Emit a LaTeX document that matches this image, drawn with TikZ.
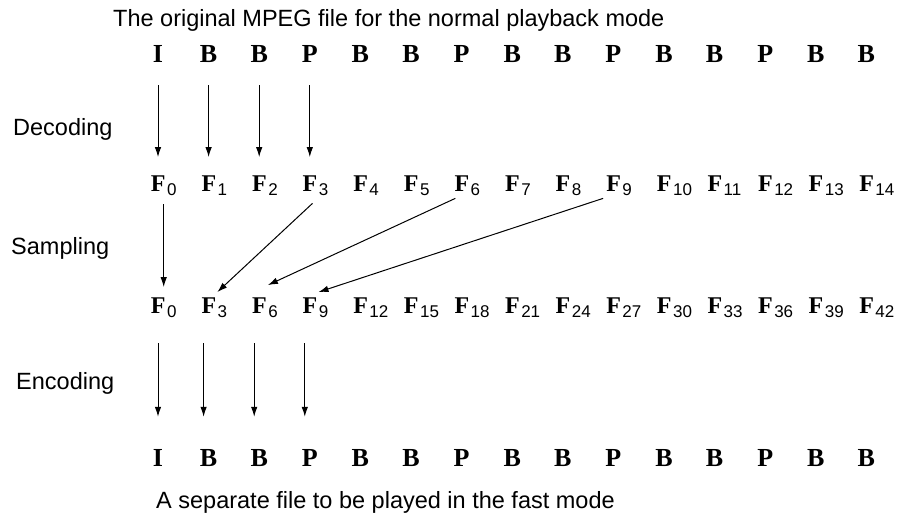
\documentclass[tikz,border=0pt]{standalone}
\usepackage{fontspec}
\setmainfont{Liberation Serif}
\setsansfont{Liberation Sans}
\usetikzlibrary{arrows.meta,calc}
\newcommand\Fsub[1]{F\kern1.5pt\raisebox{-4pt}{\mdseries\sffamily\fontsize{17}{17}\selectfont #1}}
\begin{document}
\begin{tikzpicture}[x=1pt,y=-1pt,
  ltr/.style={font=\fontsize{26}{26}\selectfont\bfseries, inner sep=0pt},
  frame/.style={font=\fontsize{24}{24}\selectfont\bfseries, inner sep=0pt},
  lab/.style={font=\sffamily\fontsize{23.5}{26}\selectfont, inner sep=0pt},
  arr/.style={-{Latex[length=10pt,width=6.5pt]}, line width=1pt}]
\useasboundingbox (0,0) rectangle (899,519);
\node[lab, anchor=base west] (title) at (113,27) {The original MPEG file for the normal playback mode};
\node[lab, anchor=base west] (dec) at (13,135) {Decoding};
\node[lab, anchor=base west] (sam) at (11,254) {Sampling};
\node[lab, anchor=base west] (enc) at (16,389) {Encoding};
\node[lab, anchor=base west] (foot) at (156,508) {A separate file to be played in the fast mode};
\foreach \t [count=\i from 0] in {I,B,B,P,B,B,P,B,B,P,B,B,P,B,B} {
  \node[ltr, anchor=base] (a\i) at ({158+50.6*\i},63) {\t};
  \node[ltr, anchor=base] (d\i) at ({158+50.6*\i},466) {\t};
}
\foreach \i in {0,...,14} {
  \node[frame, anchor=base west] (b\i) at ({150.7+50.6*\i},191) {\Fsub{\i}};
  \pgfmathtruncatemacro\k{3*\i}
  \node[frame, anchor=base west] (c\i) at ({150.7+50.6*\i},313) {\Fsub{\k}};
}
\foreach \i in {0,...,3} {
  \draw[arr, shorten <=22pt, shorten >=18pt] (a\i.south) -- (a\i.south |- b\i.north);
}
\foreach \i/\dx in {0/0,1/-5,2/-5,3/-5} {
  \draw[arr, shorten <=26pt, shorten >=32pt] ($(d\i.north |- c\i.south)+(\dx,0)$) -- ($(d\i.north)+(\dx,0)$);
}
\draw[arr, shorten <=9pt, shorten >=10pt] (b0.south) -- (c0.north);
\draw[arr] ($(b3.south)+(-3,8)$) -- ($(c1.north)+(3,-5)$);
\draw[arr] ($(b6.south west)+(1,3)$) -- ($(c2.north)+(3,-12)$);
\draw[arr] ($(b9.south west)+(-3,3)$) -- ($(c3.north)+(3,-5)$);
\end{tikzpicture}
\end{document}
